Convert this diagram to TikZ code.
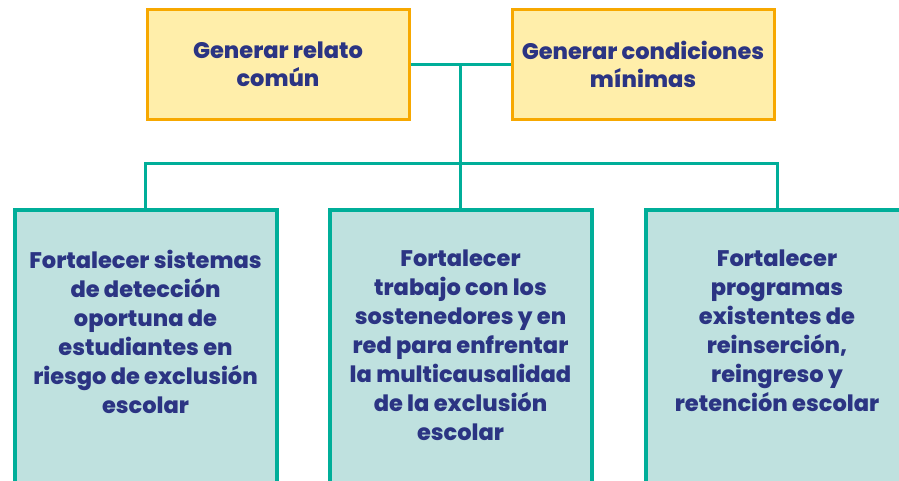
\documentclass[tikz,border=0pt]{standalone}
\usepackage{fontspec}
\setmainfont{Poppins}[BoldFont={* ExtraBold}]
\usepackage{tikz}
\usetikzlibrary{positioning,calc}
\definecolor{navy}{HTML}{2B3483}
\definecolor{ambar}{HTML}{F7A800}
\definecolor{crema}{HTML}{FFEEAA}
\definecolor{verde}{HTML}{00AE99}
\definecolor{menta}{HTML}{BFE1DF}
\tikzset{
  >=latex,
}
\tikzstyle{every node}=[font=\fontsize{22.5}{29}\selectfont\bfseries,text=navy]
\tikzstyle{meta}=[draw=ambar,fill=crema,line width=3pt,minimum width=262pt,minimum height=110pt,inner sep=0pt,align=center]
\tikzstyle{linea}=[draw=verde,fill=menta,line width=4pt,minimum width=262pt,minimum height=320pt,inner sep=0pt]
\tikzstyle{texto}=[anchor=north,align=center,inner sep=0pt]
\tikzstyle{enlace}=[verde,line width=3pt]

\begin{document}
\begin{tikzpicture}[x=1pt,y=-1pt]
    \useasboundingbox (0,0) rectangle (899,480);
    \clip (0,0) rectangle (899,480);
    \node[meta,font=\fontsize{22.5}{28}\selectfont\bfseries] (relato) at (278,64.5) {Generar relato\\común};
    \node[meta,font=\fontsize{22.5}{28}\selectfont\bfseries] (minimas) at (643,64.5) {Generar condiciones\\mínimas};
    \node[linea,anchor=north] (deteccion) at (145.5,208) {};
    \node[linea,anchor=north] (sostenedores) at (460.5,208) {};
    \node[linea,anchor=north] (reinsercion) at (777,208) {};
    \node[texto] (t1) at ([yshift=-42pt]deteccion.north) {Fortalecer sistemas\\de detección\\oportuna de\\estudiantes en\\riesgo de exclusión\\escolar};
    \node[texto] (t2) at ([yshift=-42pt]sostenedores.north) {Fortalecer\\trabajo con los\\sostenedores y en\\red para enfrentar\\la multicausalidad\\de la exclusión\\escolar};
    \node[texto] (t3) at ([yshift=-42pt]reinsercion.north) {Fortalecer\\programas\\existentes de\\reinserción,\\reingreso y\\retención escolar};
    \coordinate (centro) at ($(relato.east)!0.5!(minimas.west)$);
    \coordinate (bus) at (centro |- 0,163);
    \draw[enlace] (relato.east)--(minimas.west);
    \draw[enlace] (centro)--(bus)--(sostenedores.north);
    \draw[enlace] (deteccion.north) |- (bus) -| (reinsercion.north);
  \end{tikzpicture}
\end{document}
